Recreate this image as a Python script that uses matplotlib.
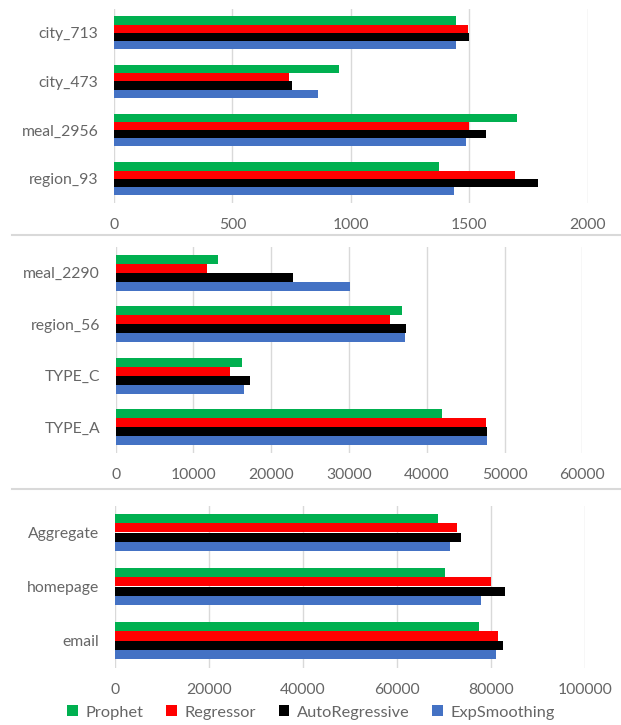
import matplotlib
matplotlib.use("Agg")
import matplotlib.pyplot as plt
from matplotlib.patches import Patch
from matplotlib.lines import Line2D

plt.rcParams['font.family'] = ['Lato', 'DejaVu Sans']

# Forecast models (legend order, drawn top to bottom within each group)
models = ["Prophet", "Regressor", "AutoRegressive", "ExpSmoothing"]
colors = ["#00B050", "#FF0000", "#000000", "#4472C4"]

# Panel 1: small series
cats_1 = ["city_713", "city_473", "meal_2956", "region_93"]
prophet_1 = [1444, 951, 1700, 1372]
regressor_1 = [1495, 740, 1497, 1693]
autoreg_1 = [1499, 750, 1572, 1790]
expsmooth_1 = [1444, 860, 1485, 1436]
ticks_1 = [0, 500, 1000, 1500, 2000]

# Panel 2: mid-sized series
cats_2 = ["meal_2290", "region_56", "TYPE_C", "TYPE_A"]
prophet_2 = [13180, 36780, 16290, 41930]
regressor_2 = [11700, 35330, 14660, 47600]
autoreg_2 = [22850, 37380, 17300, 47780]
expsmooth_2 = [30080, 37220, 16540, 47780]
ticks_2 = [0, 10000, 20000, 30000, 40000, 50000, 60000]

# Panel 3: totals
cats_3 = ["Aggregate", "homepage", "email"]
prophet_3 = [68700, 70100, 77300]
regressor_3 = [72800, 80000, 81400]
autoreg_3 = [73500, 82900, 82400]
expsmooth_3 = [71300, 77900, 81000]
ticks_3 = [0, 20000, 40000, 60000, 80000, 100000]

W, H = 621, 725
fig = plt.figure(figsize=(W / 100, H / 100), dpi=100)

text_color = "#666666"
grid_color = "#D9D9D9"
fs = 11.3


def px_axes(left, top, right, bottom):
    return fig.add_axes([left / W, 1 - bottom / H, (right - left) / W, (bottom - top) / H])


def panel(ax, cats, series, ticks, bar_h):
    n = len(cats)
    for k, (vals, col) in enumerate(zip(series, colors)):
        offs = (k - 1.5) * bar_h
        ax.barh([i + offs for i in range(n)], vals, height=bar_h,
                color=col, linewidth=0, zorder=3)
    ax.set_ylim(n - 0.5, -0.5)
    ax.set_xlim(ticks[0], ticks[-1])
    ax.set_xticks(ticks)
    ax.set_xticklabels([str(t) for t in ticks])
    ax.set_yticks(range(n))
    ax.set_yticklabels(cats)
    ax.grid(axis="x", color=grid_color, linewidth=1.0, zorder=0)
    for s in ax.spines.values():
        s.set_visible(False)
    ax.tick_params(axis="both", length=0, colors=text_color, labelsize=fs)
    ax.tick_params(axis="y", pad=11.3)
    ax.tick_params(axis="x", pad=11)
    ax.set_facecolor("none")


ax1 = px_axes(114, 8.5, 587.7, 203)
panel(ax1, cats_1, [prophet_1, regressor_1, autoreg_1, expsmooth_1], ticks_1, 0.168)

ax2 = px_axes(115.6, 247, 582.3, 453)
panel(ax2, cats_2, [prophet_2, regressor_2, autoreg_2, expsmooth_2], ticks_2, 0.175)

ax3 = px_axes(115, 505.5, 585.3, 667.5)
panel(ax3, cats_3, [prophet_3, regressor_3, autoreg_3, expsmooth_3], ticks_3, 0.173)

# chart borders between the stacked panels
for yb in (235, 489):
    fig.add_artist(Line2D([12 / W, 1.0], [1 - yb / H, 1 - yb / H],
                          color=grid_color, linewidth=1.5, transform=fig.transFigure))

handles = [Patch(facecolor=c, edgecolor="none") for c in colors]
fig.legend(handles, models, loc="center", bbox_to_anchor=(311 / W, 1 - 712.5 / H),
           ncol=4, frameon=False, fontsize=11.8, labelcolor=text_color,
           handlelength=0.65, handleheight=0.65, handletextpad=0.45, columnspacing=1.4)

fig.savefig("out.png", dpi=100, facecolor="white")
